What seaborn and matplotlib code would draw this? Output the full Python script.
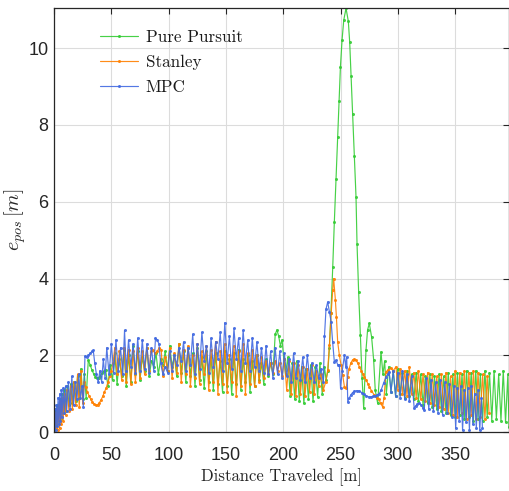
import matplotlib
matplotlib.use("Agg")
import matplotlib.pyplot as plt
import seaborn as sns
import pandas as pd

# ---------------- data ----------------
methods = ["Pure Pursuit", "Stanley", "MPC"]
colors = ["#33cc33", "#ff8000", "#4169e1"]

pp_x = [0, 1, 2, 3, 4, 5, 6, 7, 8, 9, 10, 11.5, 13, 14.5, 16, 17.5, 19, 20.5, 22, 23.5,
        25, 26.5, 28, 29.9, 31.5, 33, 34.5, 36, 37.5, 39, 40.5, 42, 43.5, 45,
        47, 49, 51, 53, 55, 57, 59, 61, 63, 65, 67, 69, 71, 73, 75, 77, 79, 81, 83, 85,
        87, 89, 91, 93, 95, 97, 99, 101, 103, 105, 107, 109, 111, 113, 115, 117, 119, 121,
        123, 125, 127, 129, 131, 133, 135, 137, 139, 141, 143, 145, 147, 149, 151, 153,
        155, 157, 159, 161, 163, 165, 167, 169, 171, 173, 175, 177, 179, 181, 183, 185,
        187, 189, 191, 193, 194.5, 196, 197.5, 199, 200.5, 202, 204, 206, 208, 210, 212,
        214, 216, 218, 220, 222, 224, 226, 228, 230, 232, 234, 236, 237.4, 239, 240.3,
        241.6, 243.2, 244.6, 246.1, 247.5, 248.7, 249.9, 251.3, 252.8, 254.8, 256.8, 258,
        259.2, 260.6, 262, 263.5, 264.4, 265.8, 267.3, 268.8, 270.2, 272.2, 273.6, 275.1,
        277.1, 278.9, 280.3, 282.4, 285.3, 287, 288.5, 290, 292, 294, 296, 298, 300, 302,
        304, 306, 308, 310, 312, 314, 316, 318, 320, 322, 324, 326, 328, 330, 332, 334,
        336, 338, 340, 342, 344, 346, 348, 350, 352, 354, 356, 358, 360, 362, 364, 366,
        368, 370, 372, 374, 376, 378, 380, 382, 384, 386, 388, 390, 392, 394, 396, 397]
pp_y = [0.05, 0.55, 0.15, 0.7, 0.3, 0.85, 0.35, 1.0, 0.5, 1.1, 0.55, 1.2, 0.7, 1.25, 0.75,
        1.3, 0.8, 1.45, 0.9, 1.65, 0.85, 1.5, 0.9, 1.88, 1.75, 1.62, 1.52, 1.44, 1.4, 1.42,
        1.47, 1.53, 1.58, 1.62,
        1.2, 1.75, 1.35, 2.05, 1.25, 1.9, 1.45, 2.15, 1.2, 2.0, 1.3, 2.25, 1.5, 2.1,
        1.35, 1.95, 1.6, 2.2, 1.45, 1.85, 1.7, 2.05, 1.5, 1.9, 1.75, 2.1, 1.6, 2.25,
        1.7, 2.0, 1.45, 2.3, 1.55, 2.1, 1.3, 2.2, 1.45, 2.05, 1.2, 2.2, 1.35, 1.95,
        1.15, 2.1, 1.3, 1.95, 1.1, 2.05, 1.25, 1.85, 1.05, 2.1, 1.2, 1.9, 1.0, 2.05,
        1.25, 2.15, 1.1, 1.9, 1.3, 2.0, 1.05, 1.85, 1.2, 2.0, 1.35, 1.8, 1.25, 1.9,
        1.45, 1.8, 1.5,
        2.55, 2.66,
        2.5, 2.25, 2.4, 1.9, 1.5, 1.95, 0.95, 1.8, 0.85, 1.85, 0.8, 1.7, 0.75, 1.65, 0.85,
        1.75, 0.8, 1.7, 0.92, 1.8, 1.0, 1.7, 1.35, 1.6, 2.2,
        3.1, 4.3, 5.48, 6.59, 7.68, 8.63, 9.51, 10.2, 10.73, 11.04, 10.7, 10.15,
        9.27, 8.28, 7.2, 6.13, 4.89, 3.65, 2.53, 1.4, 0.62, 2.13, 2.66, 2.83,
        2.48, 1.88, 1.09, 0.75, 2.09, 1.5, 1.85, 1.0, 1.7, 1.05, 1.6, 0.95, 1.65, 1.0,
        1.55, 0.9, 1.6, 0.95, 1.5, 0.85, 1.55, 0.8, 1.5, 0.7, 1.45, 0.75, 1.5, 0.65, 1.45, 0.6,
        1.5, 0.55, 1.45, 0.5, 1.55, 0.45, 1.5, 0.4, 1.55, 0.45, 1.5, 0.35, 1.6, 0.4, 1.55, 0.3,
        1.6, 0.35, 1.5, 0.3, 1.6, 0.4, 1.55, 0.3, 1.6, 0.35, 1.5, 0.3, 1.6, 0.25, 1.5, 0.14]

st_x = [0, 0.8, 1.6, 2.4, 3.2, 4.0, 4.8, 5.6, 6.4, 7.2, 8.0, 9, 10, 11.5, 13, 14.5, 16,
        17.5, 19, 20.5, 22, 23.5, 25, 26.5, 27.5, 29, 30.5, 32, 33.5, 35, 36.5, 38, 39.5,
        41, 42.5, 44, 45.5, 47, 48.5, 50, 51.5, 53, 55, 57, 59, 61, 63, 65, 67, 69, 71, 73,
        75, 77, 79, 81, 83, 84.5, 86, 88, 90, 92, 93.5, 95, 97, 99, 101, 103, 105, 107, 109,
        111, 113, 115, 117, 119, 121, 123, 125, 127, 129, 131, 133, 135, 137, 139, 141,
        143, 145, 147, 149, 151, 153, 155, 157, 159, 161, 163, 165, 167, 169, 171, 173,
        175, 177, 179, 181, 183, 185, 187, 189, 191, 193, 195, 197, 199, 201, 203, 205,
        207, 209, 211, 213, 215, 217, 219, 221, 223, 225, 227, 229, 231, 233, 235, 237,
        238.8, 240.3, 241.8, 243.2, 244, 245.5, 246.4, 247.5, 249, 250.5, 251.9, 253.4,
        254.9, 256.3, 257.5, 259, 260.5, 262, 263.5, 265, 266.5, 268, 269.5, 270.8, 272.5,
        274, 275.1, 277, 279.5, 281.5, 283.5, 285, 286.7, 288, 289.6, 291.5, 294, 296,
        298.4, 300, 302, 304, 306, 308, 310, 312, 314, 316, 318, 320, 322, 324, 326, 328,
        330, 332, 334, 336, 338, 340, 342, 344, 346, 348, 350, 352, 354, 356, 358, 360,
        362, 364, 366, 368, 370, 372, 374, 376, 378, 379.6]
st_y = [0.0, 0.5, 0.1, 0.6, 0.05, 0.7, 0.1, 0.8, 0.2, 0.9, 0.3, 1.0, 0.45, 1.1, 0.55,
        1.2, 0.6, 1.3, 0.7, 1.5, 0.65, 1.6, 0.75, 1.3, 1.18, 1.05, 0.95, 0.85, 0.78, 0.73,
        0.7, 0.71, 0.76, 0.84, 0.93, 1.05, 1.15, 1.3, 1.45, 1.6, 1.8, 2.2, 1.5, 2.1, 1.35,
        2.2, 1.3, 2.15, 1.25, 2.1, 1.3, 2.2, 1.4, 2.1, 1.5, 2.2, 1.6, 2.1, 2.15, 2.05, 2.1,
        2.2, 2.15,
        1.45, 1.95, 1.6, 2.2, 1.4, 2.05, 1.55, 2.3, 1.3, 2.15, 1.5, 2.25, 1.2, 2.0,
        1.4, 2.3, 1.25, 2.1, 1.5, 2.25, 1.1, 2.15, 1.3, 2.35, 1.0, 2.1, 1.25, 2.3,
        1.05, 2.0, 1.3, 2.25, 0.95, 2.1, 1.2, 2.3, 1.0, 2.05, 1.25, 2.15,
        1.2, 2.0, 1.3, 1.95, 1.4, 1.85, 1.5, 1.8, 1.55, 1.85, 1.6, 1.8, 1.45, 1.9, 1.1,
        1.85, 1.0, 1.8, 0.95, 1.75, 1.0, 1.7, 0.95, 1.65, 1.05, 1.75, 1.0, 1.6, 1.2, 1.5,
        1.1, 1.3,
        1.61, 2.27, 3.09, 3.7, 4.0, 3.44, 3.0, 2.35, 2.0, 1.74, 1.48, 1.18,
        1.14, 1.44, 1.65, 1.8, 1.88, 1.9, 1.87, 1.8, 1.7, 1.6, 1.52, 1.44, 1.35,
        1.25, 1.18, 1.08, 0.96, 0.9, 0.85, 0.75, 0.66, 0.9, 1.57, 1.62, 1.66, 1.6,
        1.7, 1.1, 1.65, 1.0, 1.6, 0.95, 1.7, 1.0, 1.55, 0.9, 1.6, 0.85, 1.5, 0.8, 1.55, 0.75,
        1.5, 0.7, 1.45, 0.65, 1.5, 0.6, 1.55, 0.5, 1.45, 0.45, 1.6, 0.4, 1.55, 0.5, 1.6, 0.35,
        1.55, 0.45, 1.6, 0.35, 1.55, 0.4, 1.5, 0.35, 1.45, 0.5]

mpc_x = [0, 0.7, 1.4, 2.1, 2.8, 3.5, 4.2, 4.9, 5.6, 6.3, 7.0, 8, 9, 10, 11, 12.5, 14,
         15.5, 17, 18.5, 20, 21.5, 23, 24.5, 25.5, 27, 28.5, 30, 31.5, 33, 34.2, 35.5, 37,
         38.5, 40, 41.5, 43, 44.5, 46, 48, 50, 52, 54, 56, 58, 60, 61.5, 63, 65, 67, 69,
         71, 73, 75, 77, 79, 81, 83, 85, 87, 88.5, 90, 91.5, 93, 95, 97, 99, 101, 103, 105,
         107, 109, 111, 113, 115, 117, 119, 121, 123, 125, 127, 129, 131, 133, 135, 137,
         139, 141, 143, 145, 147, 149, 151, 153, 155, 157, 159, 161, 163, 165, 167, 169,
         171, 173, 175, 177, 179, 181, 183, 185, 187, 189, 191, 193, 195, 197, 199, 201,
         203, 205, 207, 209, 211, 213, 215, 217, 219, 221, 223, 225, 227, 229, 231, 233,
         235, 236, 237.3, 238.8, 240.3, 241.8, 243.1, 244.6, 246, 247.5, 249, 250, 251.5,
         253.4, 254.5, 255.4, 256.3, 257.5, 259, 260.5, 262, 264, 266.4, 268.5, 270.5,
         272.5, 274.5, 276.6, 278.5, 280.5, 282, 283.8, 285.5, 287.5, 289.7, 291, 292.5,
         294, 296, 298, 300, 302, 304, 306, 308, 310, 312, 314.3, 315.5, 317, 318.7,
         320.5, 322, 323, 325, 327, 329, 331, 333, 335, 337, 339, 341, 343, 345, 347, 349,
         350.5, 352, 353.5, 355, 356.5, 358, 359.5, 361, 362.5, 364, 365.5, 367, 368.5,
         370, 371.5, 373, 373.8]
mpc_y = [0.0, 0.6, 0.05, 0.7, 0.15, 0.9, 0.2, 1.0, 0.3, 1.1, 0.4, 1.15, 0.5, 1.2, 0.55,
         1.3, 0.6, 1.45, 0.7, 1.3, 0.85, 1.5, 0.9, 1.2, 0.66, 1.98, 1.95, 2.0, 2.05, 2.1,
         2.13, 1.8, 1.5, 1.3, 1.6, 1.31, 1.9, 1.4, 2.2, 1.5, 2.3, 1.55, 2.4, 1.6, 2.2, 1.5,
         2.65, 1.6, 2.4, 1.7, 2.3, 1.55, 2.45, 1.6, 2.4, 1.65, 2.3, 1.55, 2.2, 1.6, 2.45,
         2.4, 2.3, 1.8, 1.5, 1.7, 1.55, 2.1, 1.6, 2.0,
         1.75, 2.2, 1.85, 2.35, 1.6, 2.2, 1.75, 2.55, 1.5, 2.3, 1.65, 2.6, 1.85, 2.25,
         1.55, 2.45, 1.7, 2.35, 1.9, 2.6, 1.6, 2.85, 1.8, 2.5, 1.65, 2.7, 1.9, 2.45,
         1.6, 2.65, 1.8, 2.4,
         1.6, 2.45, 1.7, 2.35, 1.6, 2.2,
         1.55, 2.25, 1.5, 2.1, 1.4, 2.2, 1.5, 2.1, 1.4, 2.05, 1.45, 1.9, 1.3, 2.05, 1.4,
         1.85, 1.35, 1.95, 1.3, 2.0, 1.4, 1.8, 1.3, 1.75, 1.4, 1.65, 1.3,
         2.5, 3.2, 3.39, 3.13, 2.87, 2.35, 1.83, 1.87, 1.76, 1.74, 1.14, 1.6,
         2.0, 1.7, 1.96, 0.79, 0.88, 0.97, 1.03, 1.06, 1.08, 1.07, 1.03, 0.98,
         0.94, 0.92, 0.92, 0.93, 0.95, 0.97, 1.0, 1.1, 1.27, 1.44, 1.5, 1.57,
         1.05, 1.6, 0.95, 1.55, 0.9, 1.6, 0.85, 1.5, 0.8, 1.45, 0.62, 0.68, 0.73, 0.75,
         0.7, 0.63, 0.57, 1.4, 0.6, 1.35, 0.55, 1.3, 0.5, 1.35, 0.45, 1.3, 0.5, 1.25, 0.4, 1.2,
         0.1, 1.15, 0.3, 1.2, 0.05, 1.1, 0.25, 1.15, 0.05, 1.2, 0.2, 1.0, 0.1,
         1.1, 0.05, 0.9, 0.1]

# ---------------- build frame ----------------
frames = []
for name, xs, ys in zip(methods, [pp_x, st_x, mpc_x], [pp_y, st_y, mpc_y]):
    frames.append(pd.DataFrame({"dist": xs, "err": ys, "method": name}))
df = pd.concat(frames, ignore_index=True)

sns.set_theme(style="white")
plt.rcParams["mathtext.fontset"] = "cm"

fig = plt.figure(figsize=(5.10, 4.91), dpi=100)
ax = fig.add_axes([0.106, 0.12, 0.892, 0.864])

for name, col in zip(methods, colors):
    sub = df[df["method"] == name]
    sns.lineplot(data=sub, x="dist", y="err", ax=ax, color=col, sort=False,
                 estimator=None, linewidth=0.85, marker="o", markersize=2.2,
                 markeredgewidth=0, label=name, alpha=0.9)

ax.set_xlim(0, 397)
ax.set_ylim(0, 11.05)
ax.set_xticks([0, 50, 100, 150, 200, 250, 300, 350])
ax.set_yticks([0, 2, 4, 6, 8, 10])
ax.grid(True, color="#dcdcdc", linewidth=0.8)
ax.set_axisbelow(True)
for s in ax.spines.values():
    s.set_visible(True)
    s.set_color("#262626")
    s.set_linewidth(0.9)
ax.tick_params(direction="in", length=4, width=0.8, color="#262626",
               top=True, right=True, labelsize=13, labelcolor="#262626")
ax.tick_params(axis="x", pad=11)
ax.tick_params(axis="y", pad=4)
for lab in ax.get_xticklabels() + ax.get_yticklabels():
    lab.set_fontfamily("Liberation Sans")

ax.set_xlabel("Distance Traveled [m]", fontfamily="cmr10", fontsize=12,
              color="#262626", labelpad=3)
ax.set_ylabel(r"$e_{pos}\,[m]$", fontsize=14.5, color="#262626")
ax.yaxis.set_label_coords(-0.058, 0.5)

leg = ax.legend(loc="upper left", bbox_to_anchor=(0.079, 0.972), frameon=False,
                prop={"family": "cmr10", "size": 12.3}, handlelength=2.2,
                handletextpad=0.45, labelspacing=0.55, borderaxespad=0.2)
for t in leg.get_texts():
    t.set_color("#1a1a1a")

fig.savefig("out.png", dpi=100)
